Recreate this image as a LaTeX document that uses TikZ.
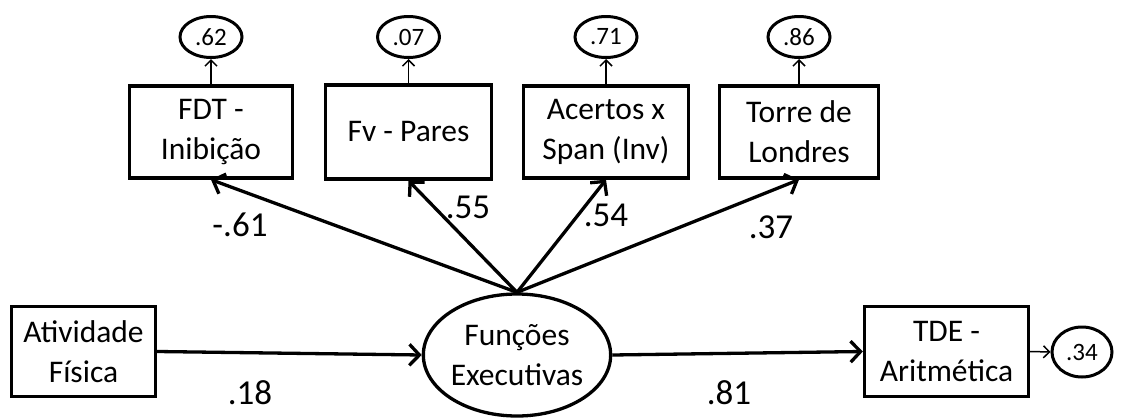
\documentclass[tikz,border=0pt]{standalone}
\usepackage{fontspec}
\setmainfont{Carlito}
\usetikzlibrary{shapes.geometric,arrows.meta}
\begin{document}
\begin{tikzpicture}[x=1pt,y=-1pt,
  box/.style={draw,line width=3.3pt,inner sep=0pt,align=center,font=\fontsize{31.5}{40}\selectfont},
  latent/.style={draw,ellipse,line width=3.3pt,inner sep=0pt,align=center,font=\fontsize{31.5}{40}\selectfont},
  resid/.style={draw,ellipse,line width=3pt,inner sep=0pt,minimum width=62pt,minimum height=41pt,font=\fontsize{25}{28}\selectfont},
  mainarrow/.style={line width=3.3pt,-{Straight Barb[length=10pt,width=21pt,line width=3.3pt]}},
  smallarrow/.style={line width=1.5pt,-{Straight Barb[length=6pt,width=12pt,line width=1.5pt]}},
  lbl/.style={font=\fontsize{35}{40}\selectfont,inner sep=0pt}]
\useasboundingbox (0,0) rectangle (1125,418);
% boxes
\node[box,minimum width=163pt,minimum height=92pt] (fdt) at (211,132) {FDT -\\Inibição};
\node[box,minimum width=166pt,minimum height=94pt] (fv) at (408.5,132) {Fv - Pares};
\node[box,minimum width=165pt,minimum height=92pt] (ac) at (606,132) {Acertos x\\Span (Inv)};
\node[box,minimum width=159pt,minimum height=92pt] (tl) at (799,132) {Torre de\\Londres};
\node[box,minimum width=144pt,minimum height=90pt] (atv) at (83.5,351.5) {Atividade\\Física};
\node[box,minimum width=164pt,minimum height=90pt] (tde) at (946.5,351.5) {TDE -\\Aritmética};
\node[latent,minimum width=174pt,minimum height=122pt] (fe) at (517,355) {Funções\\Executivas};
% residuals
\node[resid] (e1) at (211,37) {.62};
\node[resid] (e2) at (408.5,37) {.07};
\node[resid] (e3) at (606,37) {.71};
\node[resid] (e4) at (799,37) {.86};
\node[resid,minimum width=60pt,minimum height=50pt] (e5) at (1082,352) {.34};
% connectors
\draw[mainarrow] (fe.north) -- (fdt.south);
\draw[mainarrow] (fe.north) -- (fv.south);
\draw[mainarrow] (fe.north) -- (ac.south);
\draw[mainarrow] (fe.north) -- (tl.south);
\draw[mainarrow] (atv.east) -- (fe.west);
\draw[mainarrow] (fe.east) -- (tde.west);
\draw[smallarrow] (fdt.north) -- (e1.south);
\draw[smallarrow] (fv.north) -- (e2.south);
\draw[smallarrow] (ac.north) -- (e3.south);
\draw[smallarrow] (tl.north) -- (e4.south);
\draw[smallarrow] (tde.east) -- (e5.west);
% labels
\node[lbl] (l1) at (240,225) {-.61};
\node[lbl] (l2) at (468,207) {.55};
\node[lbl] (l3) at (606,215) {.54};
\node[lbl] (l4) at (771,227) {.37};
\node[lbl] (l5) at (250,393) {.18};
\node[lbl] (l6) at (729,393) {.81};
\end{tikzpicture}
\end{document}
